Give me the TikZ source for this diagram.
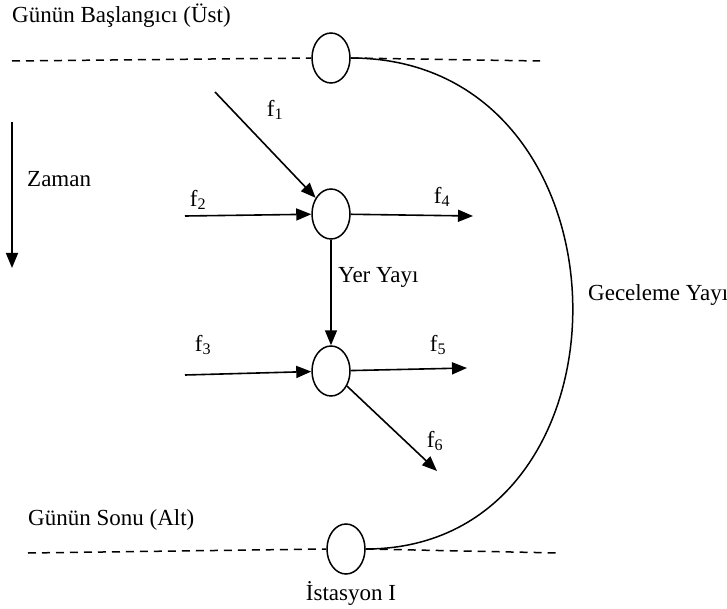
\documentclass[tikz,border=0pt]{standalone}
\usepackage{fontspec}
\setmainfont{Liberation Serif}
\usetikzlibrary{arrows.meta,shapes.geometric,positioning}

\begin{document}
\begin{tikzpicture}[x=1pt,y=-1pt,
        station/.style={draw,ellipse,line width=1.5pt,minimum width=38pt,minimum height=50pt,inner sep=0pt},
        flow/.style={line width=1.6pt,-{Triangle[length=15pt,width=12pt]}},
        dayline/.style={line width=1.5pt,dash pattern=on 8pt off 6pt},
        lbl/.style={font=\fontsize{23}{27}\selectfont,inner sep=0pt}]
        \useasboundingbox (0,0) rectangle (727,609);

        % Stations
        \node[station] (top) at (331,58) {};
        \node[station] (mid1) at (331,214) {};
        \node[station] (mid2) at (331,371) {};
        \node[station] (bot) at (346,549) {};

        % Day lines
        \node[lbl,anchor=base west] (start) at (12,23) {Günün Başlangıcı (Üst)};
        \node[lbl,anchor=base west] (end) at (28,525) {Günün Sonu (Alt)};
        \coordinate (tl) at (12,61);
        \coordinate (tr) at (540,61);
        \coordinate (bl) at (28,553);
        \coordinate (br) at (560,553);
        \draw[dayline] (tl) -- (top.west);
        \draw[dayline] (top.east) -- (tr);
        \draw[dayline] (bl) -- (bot.west);
        \draw[dayline] (bot.east) -- (br);
        \node[lbl,anchor=base] (stn) at (351,600) {İstasyon I};

        % Time
        \coordinate (t0) at (12,122);
        \coordinate (t1) at (12,268);
        \draw[flow] (t0) -- (t1);
        \node[lbl,anchor=base west] (time) at (27,187) {Zaman};

        % Flow labels
        \foreach \i/\x/\y in {1/275/110, 2/198/200, 3/203/345, 4/442/197, 5/438/345, 6/435/441} {
            \node[lbl] (f\i) at (\x,\y) {f\textsubscript{\i}};
        }

        % Flow ends
        \coordinate (in1) at (215,92);
        \coordinate (in2) at (185,216);
        \coordinate (in3) at (185,375);
        \coordinate (out4) at (473,216);
        \coordinate (out5) at (467,368);
        \coordinate (out6) at (437,471);

        % Arrows
        \foreach \i in {1,2} {
            \draw[flow] (in\i) -- (mid1);
        }
        \draw[flow] (in3) -- (mid2);
        \draw[flow] (mid1) -- (out4);
        \draw[flow] (mid2) -- (out5);
        \draw[flow] (mid2) -- (out6);
        \draw[flow] (mid1) -- (mid2);
        \node[lbl,anchor=west] (ground) at (338,277) {Yer Yayı};

        % Overnight arc
        \draw[line width=1.5pt] (top.east) .. controls +(292,0) and +(280,0) .. (bot.east);
        \node[lbl,anchor=west] (night) at (588,295) {Geceleme Yayı};
    \end{tikzpicture}
\end{document}
